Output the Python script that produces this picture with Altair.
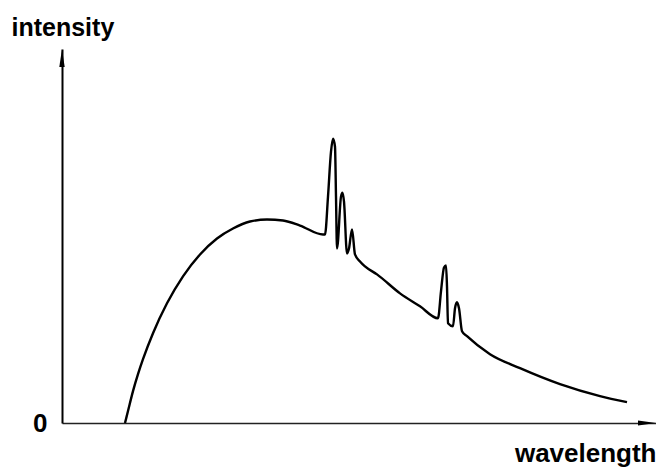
import altair as alt
import pandas as pd

# schematic spectrum: wavelength (arbitrary units) vs intensity (arbitrary units)
wavelength = [63, 66, 71, 76, 81, 91, 105, 121, 138, 155, 171, 188, 205, 221, 238,
              261, 263, 266, 269, 271, 273, 274, 275, 279, 280.5, 282, 285, 287, 290,
              293, 298, 303, 315, 338, 358, 376, 379, 382, 384, 385, 386, 391, 393,
              395, 397, 400, 405, 428, 458, 498, 538, 565]
intensity = [0, 12, 32, 49, 64, 90, 120, 147, 169, 185, 195, 202, 204, 203, 198,
             189, 189, 227, 272, 285, 277, 227, 175, 227, 231, 222, 170, 175, 194,
             169, 162, 157, 149, 130, 117, 105, 132, 156, 158, 137, 100, 97, 115,
             121, 115, 92, 87, 69, 55, 39, 27, 21]

x_max = 594
y_max = 375

df = pd.DataFrame({"wavelength": wavelength, "intensity": intensity})

xs = alt.Scale(domain=[0, x_max], nice=False, zero=False)
ys = alt.Scale(domain=[0, y_max], nice=False, zero=False)

x_axis = alt.Axis(domain=True, domainColor="#222", domainWidth=1.6, ticks=False,
                  labels=False, grid=False, title="wavelength", titleX=594, titleY=38,
                  titleAlign="right", titleBaseline="alphabetic", titleFontSize=26,
                  titleFont="Liberation Sans", titleFontWeight="bold", titleColor="#000")
y_axis = alt.Axis(domain=True, domainColor="#000", domainWidth=2, ticks=False,
                  values=[0], labelFontSize=26, labelFont="Liberation Sans",
                  labelFontWeight="bold", labelColor="#000", labelPadding=15,
                  grid=False, title="intensity", titleAngle=0, titleX=-51, titleY=-14,
                  titleAlign="left", titleBaseline="alphabetic", titleFontSize=25,
                  titleFont="Liberation Sans", titleFontWeight="bold", titleColor="#000")

curve = alt.Chart(df).mark_line(color="#000", strokeWidth=2.4, interpolate="monotone").encode(
    x=alt.X("wavelength:Q", scale=xs, axis=x_axis),
    y=alt.Y("intensity:Q", scale=ys, axis=y_axis),
)

up_arrow = alt.Chart(pd.DataFrame({"x": [0], "y": [y_max]})).mark_point(
    shape="M0,-1L0.3,1L-0.3,1Z", size=324, filled=True, color="#000", opacity=1, yOffset=9
).encode(x=alt.X("x:Q", scale=xs), y=alt.Y("y:Q", scale=ys))

right_arrow = alt.Chart(pd.DataFrame({"x": [x_max], "y": [0]})).mark_point(
    shape="M1,0L-1,0.28L-1,-0.28Z", size=324, filled=True, color="#000", opacity=1, xOffset=-9
).encode(x=alt.X("x:Q", scale=xs), y=alt.Y("y:Q", scale=ys))

chart = alt.layer(curve, up_arrow, right_arrow).properties(
    width=594, height=374,
    background="white",
    autosize=alt.AutoSizeParams(type="none"),
    padding={"left": 54, "top": 41, "right": 0, "bottom": 44},
).configure_view(strokeWidth=0, stroke="transparent").configure_axis(grid=False)

chart.save("out.html", embed_options={"renderer": "svg", "actions": False})
